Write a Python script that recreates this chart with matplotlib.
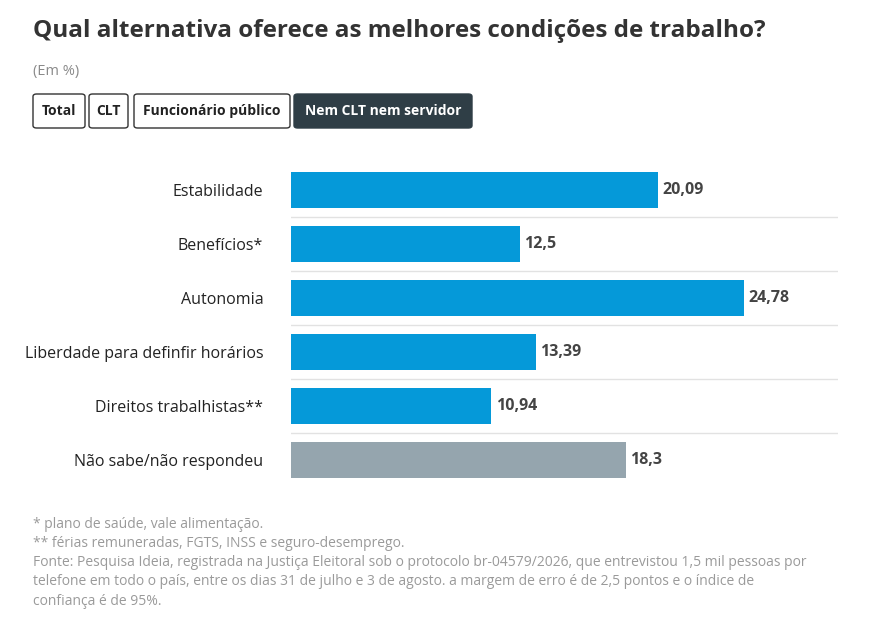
import matplotlib
matplotlib.use("Agg")
import matplotlib.pyplot as plt
from matplotlib.patches import FancyBboxPatch

plt.rcParams['font.family'] = ['Open Sans', 'DejaVu Sans']

categories = ["Estabilidade", "Benefícios*", "Autonomia", "Liberdade para definfir horários",
              "Direitos trabalhistas**", "Não sabe/não respondeu"]
values = [20.09, 12.5, 24.78, 13.39, 10.94, 18.3]
labels = ["20,09", "12,5", "24,78", "13,39", "10,94", "18,3"]
colors = ["#0599d9"] * 5 + ["#95a5ae"]
buttons = ["Total", "CLT", "Funcionário público", "Nem CLT nem servidor"]
notes = ["* plano de saúde, vale alimentação.",
         "** férias remuneradas, FGTS, INSS e seguro-desemprego.",
         "Fonte: Pesquisa Ideia, registrada na Justiça Eleitoral sob o protocolo br-04579/2026, que entrevistou 1,5 mil pessoas por",
         "telefone em todo o país, entre os dias 31 de julho e 3 de agosto. a margem de erro é de 2,5 pontos e o índice de",
         "confiança é de 95%."]

W, H = 877, 631
fig = plt.figure(figsize=(W/100, H/100), dpi=100)
fig.patch.set_facecolor("white")

def fx(x): return x / W
def fy(y): return 1 - y / H

fig.text(fx(33), fy(31), "Qual alternativa oferece as melhores condições de trabalho?",
         fontsize=17.5, fontweight="bold", color="#333333", va="center")
fig.text(fx(33), fy(71), "(Em %)", fontsize=10.5, color="#8a8a8a", va="center")

bx = [(33, 85), (89, 128), (134, 290), (294, 472)]
for i, (name, (x0, x1)) in enumerate(zip(buttons, bx)):
    active = i == 3
    p = FancyBboxPatch((fx(x0), fy(128)), fx(x1 - x0), (128 - 94) / H,
                       boxstyle="round,pad=0,rounding_size=0.004", transform=fig.transFigure,
                       facecolor="#2f3e46" if active else "white",
                       edgecolor="#2f3e46" if active else "#333333", linewidth=1)
    fig.patches.append(p)
    fig.text(fx((x0 + x1) / 2), fy(111), name, fontsize=10, fontweight="bold",
             color="white" if active else "#222222", ha="center", va="center")

ax = fig.add_axes([fx(291), fy(487), fx(838 - 291), (487 - 163) / H])
y = list(range(len(categories)))
ax.barh(y, values, height=36/54, color=colors)
ax.set_ylim(len(categories) - 0.5, -0.5)
ax.set_xlim(0, 547 / 18.28)
for i, (v, l) in enumerate(zip(values, labels)):
    ax.text(v + 0.25, i, l, va="center", ha="left", fontsize=11.5, fontweight="bold", color="#444444")
for i in range(len(categories) - 1):
    ax.axhline(i + 0.5, color="#e2e2e2", linewidth=1)
ax.set_yticks(y)
ax.set_yticklabels(categories, fontsize=11.5, color="#222222")
ax.tick_params(axis="y", length=0, pad=20)
ax.set_xticks([])
for s in ax.spines.values():
    s.set_visible(False)

for i, n in enumerate(notes):
    fig.text(fx(33), fy(524 + i * 19.3), n, fontsize=10, color="#9a9a9a", va="center")

fig.savefig("out.png", dpi=100)
